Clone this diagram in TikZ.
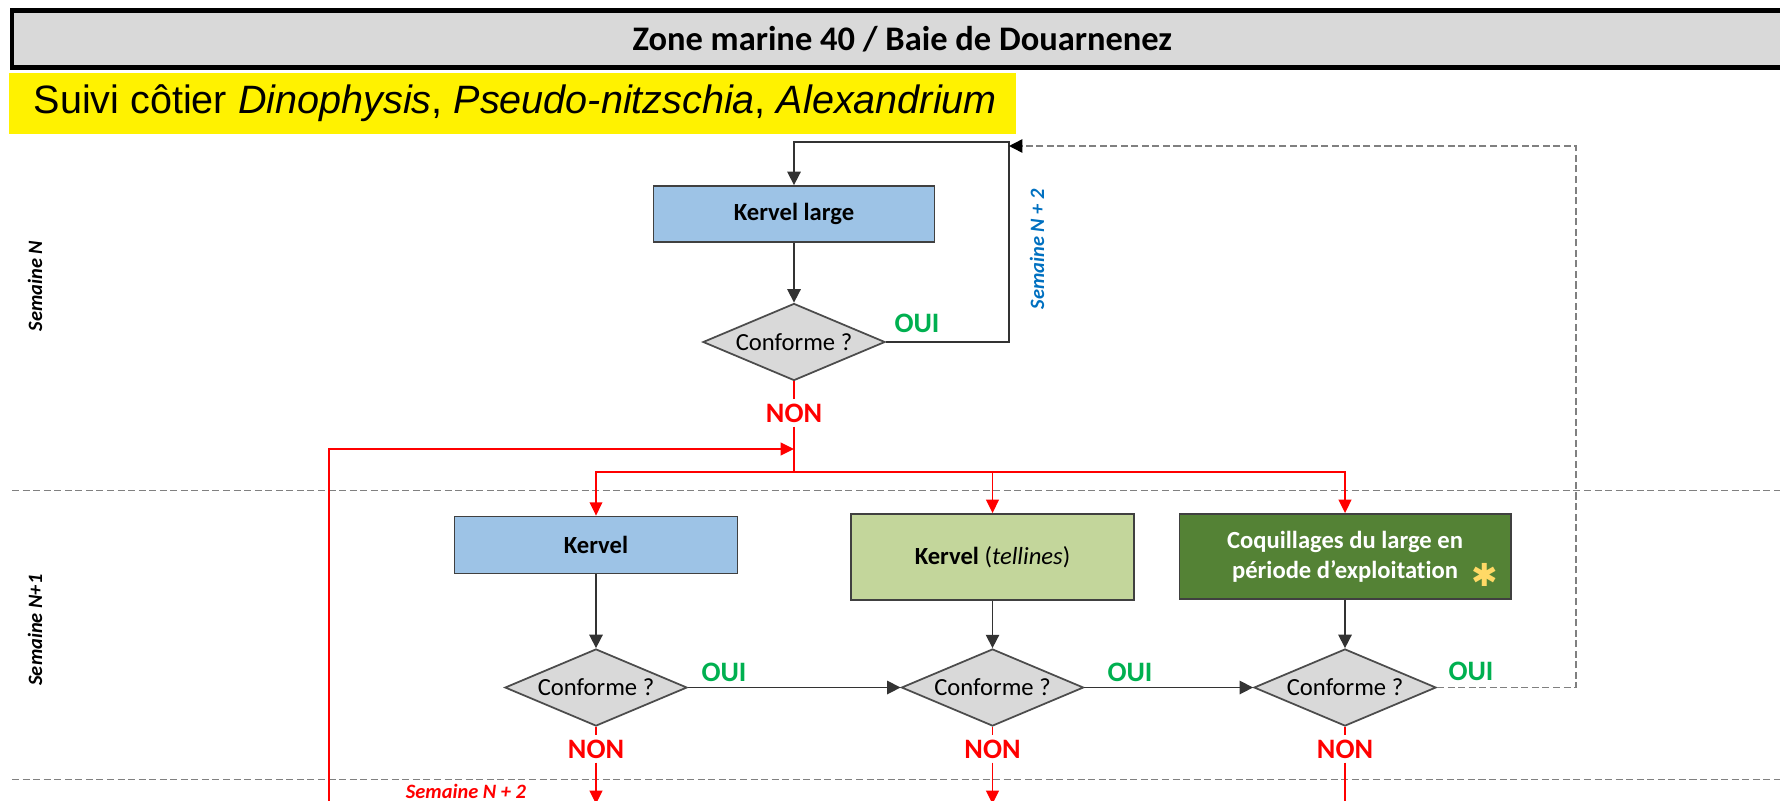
\documentclass[tikz,border=0pt]{standalone}
\usepackage{fontspec}
\setmainfont{Carlito}[Ligatures=NoCommon]
\newfontfamily\arialfont{Liberation Sans}
\newfontfamily\symfont{DejaVu Sans}
\usetikzlibrary{shapes.geometric,arrows.meta}
\definecolor{titregris}{HTML}{D9D9D9}
\definecolor{bleuboite}{HTML}{9DC3E6}
\definecolor{vertclair}{HTML}{C3D69B}
\definecolor{vertfonce}{HTML}{548235}
\definecolor{vertoui}{HTML}{00B050}
\definecolor{bleutxt}{HTML}{0070C0}
\definecolor{jauneast}{HTML}{FFD966}
\begin{document}
\begin{tikzpicture}[x=0.01cm, y=-0.01cm, every node/.style={font=\fontsize{7}{8.5}\selectfont},
  boite/.style={draw=black!75,line width=0.5pt,minimum width=2.83cm,inner sep=0pt,align=center,font=\fontsize{7}{8.5}\selectfont\bfseries},
  losange/.style={diamond,draw=black!70,fill=titregris,line width=0.5pt,aspect=2.36,inner sep=0pt,minimum width=1.82cm,minimum height=0.77cm},
  fleche/.style={-{Triangle[width=3.8pt,length=3.8pt]},black!80,line width=0.45pt},
  rouge/.style={red,line width=0.5pt},
  rfleche/.style={rouge,-{Triangle[width=3.6pt,length=3.8pt]}},
  oui/.style={text=vertoui,font=\fontsize{8}{9}\selectfont\bfseries},
  non/.style={text=red,font=\fontsize{8}{9}\selectfont\bfseries,inner sep=1pt},
  semaine/.style={font=\fontsize{5.8}{7}\selectfont\bfseries\itshape},
  separation/.style={gray,line width=0.4pt,dash pattern=on 2pt off 1pt}]
\useasboundingbox (0,0) rectangle (1780,800);
% bandeaux
\draw[separation] (12,490.5) -- (1780,490.5);
\draw[separation] (12,779.5) -- (1780,779.5);
\node[draw=black,line width=1.3pt,fill=titregris,anchor=west,minimum width=17.8cm,minimum height=0.57cm,
  font=\fontsize{9.8}{11}\selectfont\bfseries] (titre) at (9.5,39) {Zone marine 40 / Baie de Douarnenez};
\node[fill=yellow,anchor=north west,inner xsep=0.25cm,inner ysep=0pt,minimum height=0.61cm,
  font=\arialfont\fontsize{11.25}{13}\selectfont] (suivi) at (8,72)
  {\makebox[9.57cm][l]{Suivi côtier \textit{Dinophysis}, \textit{Pseudo-nitzschia}, \textit{Alexandrium}}};
\node[semaine,rotate=90] (sn) at (35,286) {Semaine N};
\node[semaine,rotate=90] (sn1) at (35,630) {Semaine N+1};
% Semaine N
\node[boite,fill=bleuboite,minimum width=2.81cm,minimum height=0.56cm] (kl) at (794,214) {Kervel large};
\node[losange] (c1) at (794,342) {Conforme ?};
\draw[fleche] (kl) -- (c1);
\coordinate (boucle) at (1009,142);
\draw[fleche] (c1.east) -| (boucle) -| (kl.north);
\node[oui] (oui1) at (917,323) {OUI};
\node[semaine,text=bleutxt,rotate=90] (sn2) at (1037,249) {Semaine N + 2};
\node[non] (non1) at (794,413) {NON};
\coordinate (fourche) at (794,472);
\draw[rouge] (c1) -- (non1);
\draw[rouge] (non1) -- (fourche);
\coordinate (remontee) at (329,805);
\coordinate (entree) at (794,449);
\draw[rfleche] (remontee) |- (entree);
% Semaine N+1
\node[boite,fill=bleuboite,minimum height=0.57cm] (k) at (596,545) {Kervel};
\node[boite,fill=vertclair,minimum height=0.86cm] (kt) at (992.5,557) {Kervel \mdseries(\textit{tellines})};
\node[boite,fill=vertfonce,text=white,minimum width=3.31cm,minimum height=0.85cm] (cq) at (1345,556.5)
  {Coquillages du large en\\période d’exploitation};
\node[text=jauneast,font=\symfont\fontsize{9}{9}\selectfont] (ast) at (1485,575) {✱};
\foreach \b in {k,kt,cq} {\draw[rfleche] (fourche) -| (\b.north);}
\foreach \i/\x in {2/596,3/992.5,4/1345} {
  \node[losange] (c\i) at (\x,687.5) {Conforme ?};
  \node[non] (non\i) at (\x,749) {NON};
  \draw[rouge] (c\i) -- (non\i);}
\draw[fleche] (k) -- (c2);
\draw[fleche] (kt) -- (c3);
\draw[fleche] (cq) -- (c4);
\draw[fleche] (c2) -- (c3);
\draw[fleche] (c3) -- (c4);
\node[oui] (oui2) at (724,672) {OUI};
\node[oui] (oui3) at (1130,672) {OUI};
\node[oui] (oui4) at (1471,671) {OUI};
\coordinate (coin) at (1576,146);
\coordinate (arrivee) at (1009,146);
\draw[-{Triangle[width=3.8pt,length=3.8pt,color=black]},gray,line width=0.45pt,dash pattern=on 2pt off 1pt]
  (c4.east) -| (coin) -- (arrivee);
% Semaine N+2
\coordinate (fin2) at (596,804);
\coordinate (fin3) at (992.5,804);
\coordinate (fin4) at (1345,805);
\draw[rfleche] (non2) -- (fin2);
\draw[rfleche] (non3) -- (fin3);
\draw[rouge] (non4) -- (fin4);
\node[semaine,text=red] (sn2b) at (466,791) {Semaine N + 2};
\end{tikzpicture}
\end{document}
